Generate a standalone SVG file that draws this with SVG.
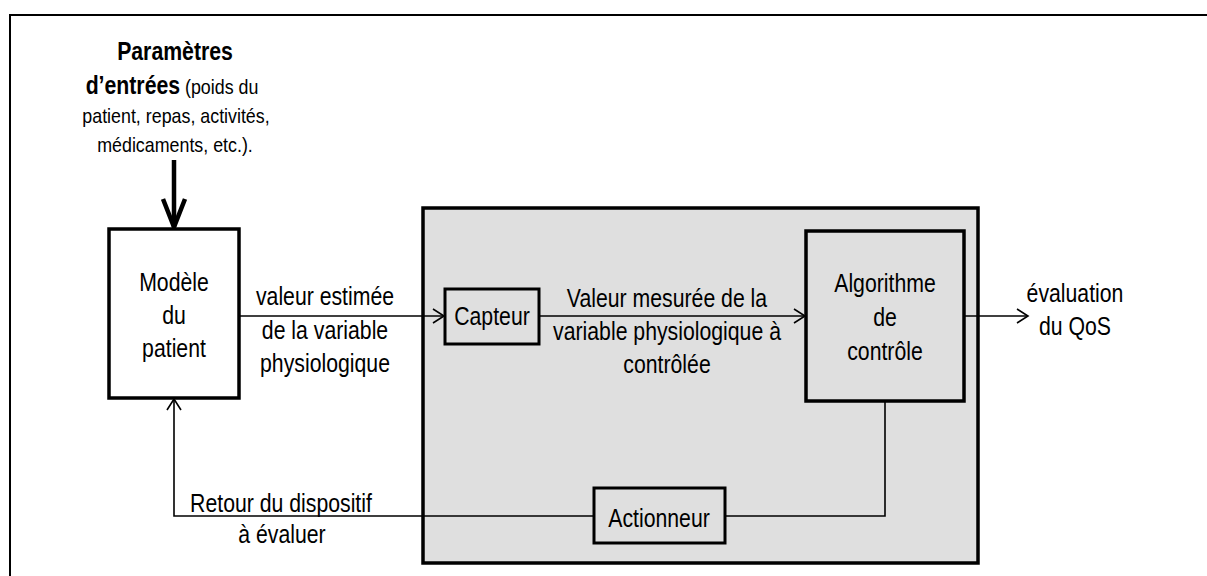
<svg xmlns="http://www.w3.org/2000/svg" width="1207" height="576" viewBox="0 0 1207 576">
<defs>
<style>
text{font-family:"Liberation Sans",Arial,sans-serif;font-size:25px;fill:#000;text-anchor:middle}
.small{font-size:21px}
.b{font-weight:bold}
.box{stroke:#000;stroke-width:3.5;fill:#fff}
.gbox{stroke:#000;stroke-width:3.5;fill:#dfdfdf}
.line{stroke:#000;stroke-width:1.6;fill:none}
</style>
<marker id="arr" markerUnits="userSpaceOnUse" markerWidth="14" markerHeight="16" refX="11" refY="7" orient="auto" overflow="visible">
<path d="M0,0 L11,7 L0,14" fill="none" stroke="#000" stroke-width="1.6"/>
</marker>
<marker id="arrT" markerUnits="userSpaceOnUse" markerWidth="30" markerHeight="26" refX="28" refY="11" orient="auto" overflow="visible">
<path d="M0,0 L28,11 L0,22" fill="none" stroke="#000" stroke-width="4.5"/>
</marker>
</defs>
<rect x="0" y="0" width="1207" height="576" fill="#fff"/>
<rect id="frame" x="10" y="15" width="1220" height="600" fill="none" stroke="#000" stroke-width="2"/>

<g id="inputs">
<text class="b" transform="translate(175,60) scale(0.85,1)">Paramètres</text>
<text transform="translate(172,94) scale(0.85,1)"><tspan class="b">d’entrées</tspan><tspan class="small"> (poids du</tspan></text>
<text class="small" transform="translate(176,123) scale(0.85,1)">patient, repas, activités,</text>
<text class="small" transform="translate(175,152) scale(0.85,1)">médicaments, etc.).</text>
</g>

<g id="systeme">
<rect class="gbox" x="423" y="208" width="555" height="355"/>
</g>

<g id="connectors">
<line class="line" x1="174" y1="160" x2="174" y2="227" style="stroke-width:4.5" marker-end="url(#arrT)"/>
<line class="line" x1="239" y1="316" x2="444" y2="316" marker-end="url(#arr)"/>
<line class="line" x1="539" y1="316" x2="805" y2="316" marker-end="url(#arr)"/>
<line class="line" x1="964" y1="316" x2="1028" y2="316" marker-end="url(#arr)"/>
<polyline class="line" points="885,401 885,516 725,516"/>
<polyline class="line" points="594,516 174,516 174,399" marker-end="url(#arr)"/>
</g>

<g id="modele">
<rect class="box" x="109" y="229" width="130" height="169"/>
<text transform="translate(174,291) scale(0.85,1)">Modèle</text>
<text transform="translate(174,324) scale(0.85,1)">du</text>
<text transform="translate(174,357) scale(0.85,1)">patient</text>
</g>

<g id="capteur">
<rect class="box" x="445" y="289" width="94" height="55" style="fill:#dfdfdf;stroke-width:3"/>
<text transform="translate(492,325) scale(0.85,1)">Capteur</text>
</g>

<g id="algorithme">
<rect class="box" x="806" y="231" width="158" height="170" style="fill:#dfdfdf"/>
<text transform="translate(885,292) scale(0.85,1)">Algorithme</text>
<text transform="translate(885,326) scale(0.85,1)">de</text>
<text transform="translate(885,360) scale(0.85,1)">contrôle</text>
</g>

<g id="actionneur">
<rect class="box" x="594" y="488" width="131" height="55" style="fill:#dfdfdf;stroke-width:3"/>
<text transform="translate(659,527) scale(0.85,1)">Actionneur</text>
</g>

<g id="labels">
<text transform="translate(325,305) scale(0.85,1)">valeur estimée</text>
<text transform="translate(325,339) scale(0.85,1)">de la variable</text>
<text transform="translate(325,372) scale(0.85,1)">physiologique</text>
<text transform="translate(667,307) scale(0.85,1)">Valeur mesurée de la</text>
<text transform="translate(667,340) scale(0.85,1)">variable physiologique à</text>
<text transform="translate(667,373) scale(0.85,1)">contrôlée</text>
<text transform="translate(1075,302) scale(0.85,1)">évaluation</text>
<text transform="translate(1075,335) scale(0.85,1)">du QoS</text>
<text transform="translate(281,512) scale(0.85,1)">Retour du dispositif</text>
<text transform="translate(282,543) scale(0.85,1)">à évaluer</text>
</g>
</svg>
